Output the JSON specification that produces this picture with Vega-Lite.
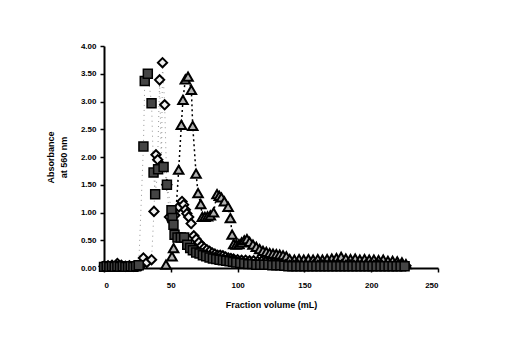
{
  "$schema": "https://vega.github.io/schema/vega-lite/v6.json",
  "width": 334,
  "height": 222,
  "autosize": "none",
  "padding": {"left": 104, "top": 46, "right": 69, "bottom": 75},
  "background": "white",
  "config": {
    "view": {"stroke": null},
    "axis": {
      "grid": false,
      "domainColor": "black",
      "domainWidth": 2,
      "tickColor": "black",
      "tickWidth": 1.5,
      "tickSize": 4,
      "labelFont": "Liberation Sans",
      "labelFontWeight": "bold",
      "labelFontSize": 8,
      "labelColor": "black",
      "titleFont": "Liberation Sans",
      "titleFontWeight": "bold",
      "titleFontSize": 9,
      "titleColor": "black"
    }
  },
  "datasets": {
    "sq": [
      {"x": 0, "y": 0.02}, {"x": 2, "y": 0.03}, {"x": 4, "y": 0.02}, {"x": 6, "y": 0.03}, {"x": 8, "y": 0.02},
      {"x": 10, "y": 0.03}, {"x": 12, "y": 0.02}, {"x": 14, "y": 0.03}, {"x": 16, "y": 0.02}, {"x": 18, "y": 0.02},
      {"x": 20, "y": 0.03}, {"x": 22, "y": 0.02}, {"x": 24, "y": 0.03}, {"x": 26, "y": 0.05},
      {"x": 29.5, "y": 2.19}, {"x": 30.5, "y": 3.37}, {"x": 32.8, "y": 3.5}, {"x": 35.6, "y": 2.97},
      {"x": 37.1, "y": 1.72}, {"x": 38.3, "y": 1.33}, {"x": 40.5, "y": 1.78}, {"x": 44.6, "y": 1.82},
      {"x": 47.1, "y": 1.5}, {"x": 50.5, "y": 1.04}, {"x": 51.2, "y": 0.9}, {"x": 52, "y": 0.78},
      {"x": 52.8, "y": 0.6}, {"x": 55, "y": 0.55}, {"x": 57.5, "y": 0.55}, {"x": 60, "y": 0.55},
      {"x": 62.3, "y": 0.42}, {"x": 64.5, "y": 0.36}, {"x": 66.5, "y": 0.32}, {"x": 69, "y": 0.28},
      {"x": 71.5, "y": 0.26}, {"x": 74, "y": 0.23}, {"x": 76.5, "y": 0.21}, {"x": 79, "y": 0.19},
      {"x": 81.5, "y": 0.17}, {"x": 84, "y": 0.16}, {"x": 86.5, "y": 0.15}, {"x": 89, "y": 0.14},
      {"x": 91.5, "y": 0.13}, {"x": 94, "y": 0.12}, {"x": 96.5, "y": 0.11}, {"x": 99, "y": 0.1},
      {"x": 102, "y": 0.09}, {"x": 105, "y": 0.08}, {"x": 108, "y": 0.07}, {"x": 111, "y": 0.07},
      {"x": 114, "y": 0.06}, {"x": 117, "y": 0.06}, {"x": 120, "y": 0.06}, {"x": 123, "y": 0.06},
      {"x": 126, "y": 0.05}, {"x": 129, "y": 0.05}, {"x": 132, "y": 0.05}, {"x": 135, "y": 0.04},
      {"x": 138, "y": 0.03}, {"x": 141, "y": 0.03}, {"x": 144, "y": 0.03}, {"x": 147, "y": 0.03},
      {"x": 150, "y": 0.03}, {"x": 153, "y": 0.03}, {"x": 156, "y": 0.03}, {"x": 159, "y": 0.03},
      {"x": 162, "y": 0.03}, {"x": 165, "y": 0.03}, {"x": 168, "y": 0.03}, {"x": 171, "y": 0.03},
      {"x": 174, "y": 0.03}, {"x": 177, "y": 0.03}, {"x": 180, "y": 0.03}, {"x": 183, "y": 0.03},
      {"x": 186, "y": 0.03}, {"x": 189, "y": 0.03}, {"x": 192, "y": 0.03}, {"x": 195, "y": 0.03},
      {"x": 198, "y": 0.03}, {"x": 201, "y": 0.03}, {"x": 204, "y": 0.03}, {"x": 207, "y": 0.03},
      {"x": 210, "y": 0.03}, {"x": 213, "y": 0.03}, {"x": 216, "y": 0.03}, {"x": 219, "y": 0.03},
      {"x": 222, "y": 0.03}, {"x": 225, "y": 0.03}
    ],
    "di": [
      {"x": 0, "y": 0.03}, {"x": 3, "y": 0.04}, {"x": 6, "y": 0.05}, {"x": 10, "y": 0.08}, {"x": 13, "y": 0.05},
      {"x": 16, "y": 0.03}, {"x": 19, "y": 0.04}, {"x": 22, "y": 0.03}, {"x": 25, "y": 0.04}, {"x": 28, "y": 0.05},
      {"x": 29.5, "y": 0.18}, {"x": 32, "y": 0.1}, {"x": 35.6, "y": 0.15}, {"x": 37.4, "y": 1.02},
      {"x": 38.9, "y": 2.04}, {"x": 40.2, "y": 1.95}, {"x": 41.6, "y": 3.39}, {"x": 43, "y": 1.85},
      {"x": 43.8, "y": 3.7}, {"x": 45.4, "y": 2.94}, {"x": 47, "y": 1.5}, {"x": 49, "y": 0.92},
      {"x": 51, "y": 0.85}, {"x": 53, "y": 0.95}, {"x": 56, "y": 1.1}, {"x": 58.4, "y": 1.2},
      {"x": 59.6, "y": 1.14}, {"x": 60.9, "y": 1.05}, {"x": 62, "y": 0.98}, {"x": 63.4, "y": 0.92},
      {"x": 65.2, "y": 0.8}, {"x": 67.2, "y": 0.58}, {"x": 69, "y": 0.52}, {"x": 71, "y": 0.46},
      {"x": 73, "y": 0.4}, {"x": 75, "y": 0.36}, {"x": 77, "y": 0.33}, {"x": 79, "y": 0.3},
      {"x": 81, "y": 0.27}, {"x": 83, "y": 0.25}, {"x": 85, "y": 0.23}, {"x": 87, "y": 0.23},
      {"x": 89, "y": 0.22}, {"x": 91, "y": 0.2}, {"x": 93, "y": 0.18}, {"x": 95, "y": 0.17},
      {"x": 97, "y": 0.16}, {"x": 100, "y": 0.15}, {"x": 103, "y": 0.14}, {"x": 106, "y": 0.14},
      {"x": 109, "y": 0.13}, {"x": 112, "y": 0.13}, {"x": 115, "y": 0.12}, {"x": 118, "y": 0.12},
      {"x": 121, "y": 0.11}, {"x": 124, "y": 0.1}, {"x": 127, "y": 0.09}, {"x": 130, "y": 0.08},
      {"x": 133, "y": 0.07}, {"x": 136, "y": 0.06}, {"x": 139, "y": 0.05}, {"x": 142, "y": 0.05},
      {"x": 145, "y": 0.06}, {"x": 148, "y": 0.05}, {"x": 151, "y": 0.06}, {"x": 154, "y": 0.05},
      {"x": 157, "y": 0.06}, {"x": 160, "y": 0.05}, {"x": 163, "y": 0.06}, {"x": 166, "y": 0.05},
      {"x": 169, "y": 0.06}, {"x": 172, "y": 0.06}, {"x": 175, "y": 0.07}, {"x": 178, "y": 0.06},
      {"x": 181, "y": 0.05}, {"x": 184, "y": 0.06}, {"x": 187, "y": 0.05}, {"x": 190, "y": 0.06},
      {"x": 193, "y": 0.05}, {"x": 196, "y": 0.06}, {"x": 199, "y": 0.05}, {"x": 202, "y": 0.05},
      {"x": 205, "y": 0.06}, {"x": 208, "y": 0.05}, {"x": 211, "y": 0.05}, {"x": 214, "y": 0.05},
      {"x": 217, "y": 0.04}, {"x": 220, "y": 0.05}, {"x": 223, "y": 0.04}, {"x": 226, "y": 0.04}
    ],
    "tr": [
      {"x": 46.4, "y": 0.06}, {"x": 50.9, "y": 0.21}, {"x": 52.1, "y": 0.36}, {"x": 55.9, "y": 1.77},
      {"x": 57.9, "y": 2.58}, {"x": 59.1, "y": 3.03}, {"x": 60.9, "y": 3.4}, {"x": 62.9, "y": 3.45},
      {"x": 65.4, "y": 3.21}, {"x": 66.4, "y": 2.56}, {"x": 68.9, "y": 1.7}, {"x": 70.4, "y": 1.35},
      {"x": 72.4, "y": 1.15}, {"x": 73.6, "y": 0.92}, {"x": 75.5, "y": 0.92}, {"x": 77.5, "y": 0.93},
      {"x": 79.6, "y": 0.95}, {"x": 82, "y": 1.0}, {"x": 84.6, "y": 1.33}, {"x": 86.3, "y": 1.3},
      {"x": 87.9, "y": 1.27}, {"x": 90.1, "y": 1.2}, {"x": 92.9, "y": 1.1}, {"x": 94.6, "y": 0.9},
      {"x": 95.9, "y": 0.6}, {"x": 97.1, "y": 0.43}, {"x": 99, "y": 0.42}, {"x": 101, "y": 0.43},
      {"x": 103, "y": 0.46}, {"x": 105, "y": 0.5}, {"x": 107, "y": 0.52}, {"x": 109, "y": 0.47},
      {"x": 111.5, "y": 0.42}, {"x": 114, "y": 0.38}, {"x": 116.5, "y": 0.34}, {"x": 119, "y": 0.31},
      {"x": 121.5, "y": 0.29}, {"x": 124, "y": 0.27}, {"x": 126.5, "y": 0.26}, {"x": 129, "y": 0.25},
      {"x": 131.5, "y": 0.24}, {"x": 134, "y": 0.23}, {"x": 136.5, "y": 0.21}, {"x": 139, "y": 0.16},
      {"x": 142.5, "y": 0.15}, {"x": 146, "y": 0.16}, {"x": 149.5, "y": 0.15}, {"x": 153, "y": 0.16},
      {"x": 156.5, "y": 0.15}, {"x": 160, "y": 0.16}, {"x": 163.5, "y": 0.15}, {"x": 167, "y": 0.16},
      {"x": 170.5, "y": 0.17}, {"x": 174, "y": 0.18}, {"x": 177.5, "y": 0.2}, {"x": 181, "y": 0.17},
      {"x": 184.5, "y": 0.16}, {"x": 188, "y": 0.17}, {"x": 191.5, "y": 0.15}, {"x": 195, "y": 0.16},
      {"x": 198.5, "y": 0.15}, {"x": 202, "y": 0.15}, {"x": 205.5, "y": 0.14}, {"x": 209, "y": 0.15},
      {"x": 212.5, "y": 0.13}, {"x": 216, "y": 0.13}, {"x": 219.5, "y": 0.12}, {"x": 223, "y": 0.1},
      {"x": 226, "y": 0.07}
    ]
  },
  "encoding": {
    "x": {
      "field": "x", "type": "quantitative",
      "scale": {"domain": [0, 250], "nice": false},
      "axis": {"values": [0, 50, 100, 150, 200, 250], "labelPadding": 9, "titlePadding": 11, "title": "Fraction volume (mL)"}
    },
    "y": {
      "field": "y", "type": "quantitative",
      "scale": {"domain": [0, 4], "nice": false},
      "axis": {"values": [0, 0.5, 1, 1.5, 2, 2.5, 3, 3.5, 4], "format": ".2f", "labelPadding": 4, "titlePadding": 12, "title": ["Absorbance", "at 560 nm"], "titleLineHeight": 13}
    }
  },
  "layer": [
    {"data": {"name": "sq"}, "mark": {"type": "line", "color": "#999", "strokeWidth": 1, "strokeDash": [1, 4]}},
    {"data": {"name": "di"}, "mark": {"type": "line", "color": "#999", "strokeWidth": 1, "strokeDash": [1, 4]}},
    {"data": {"name": "tr"}, "mark": {"type": "line", "color": "black", "strokeWidth": 1.5, "strokeDash": [2, 3]}},
    {"data": {"name": "tr"}, "mark": {"type": "point", "shape": "triangle-up", "size": 90, "filled": true, "fill": "#b0b0b0", "stroke": "black", "strokeWidth": 2, "opacity": 1}},
    {"data": {"name": "di"}, "mark": {"type": "point", "shape": "diamond", "size": 85, "filled": true, "fill": "#f0f0f0", "stroke": "black", "strokeWidth": 2, "opacity": 1}},
    {"data": {"name": "sq"}, "mark": {"type": "point", "shape": "square", "size": 80, "filled": true, "fill": "#444", "stroke": "black", "strokeWidth": 1.5, "opacity": 1}}
  ]
}
